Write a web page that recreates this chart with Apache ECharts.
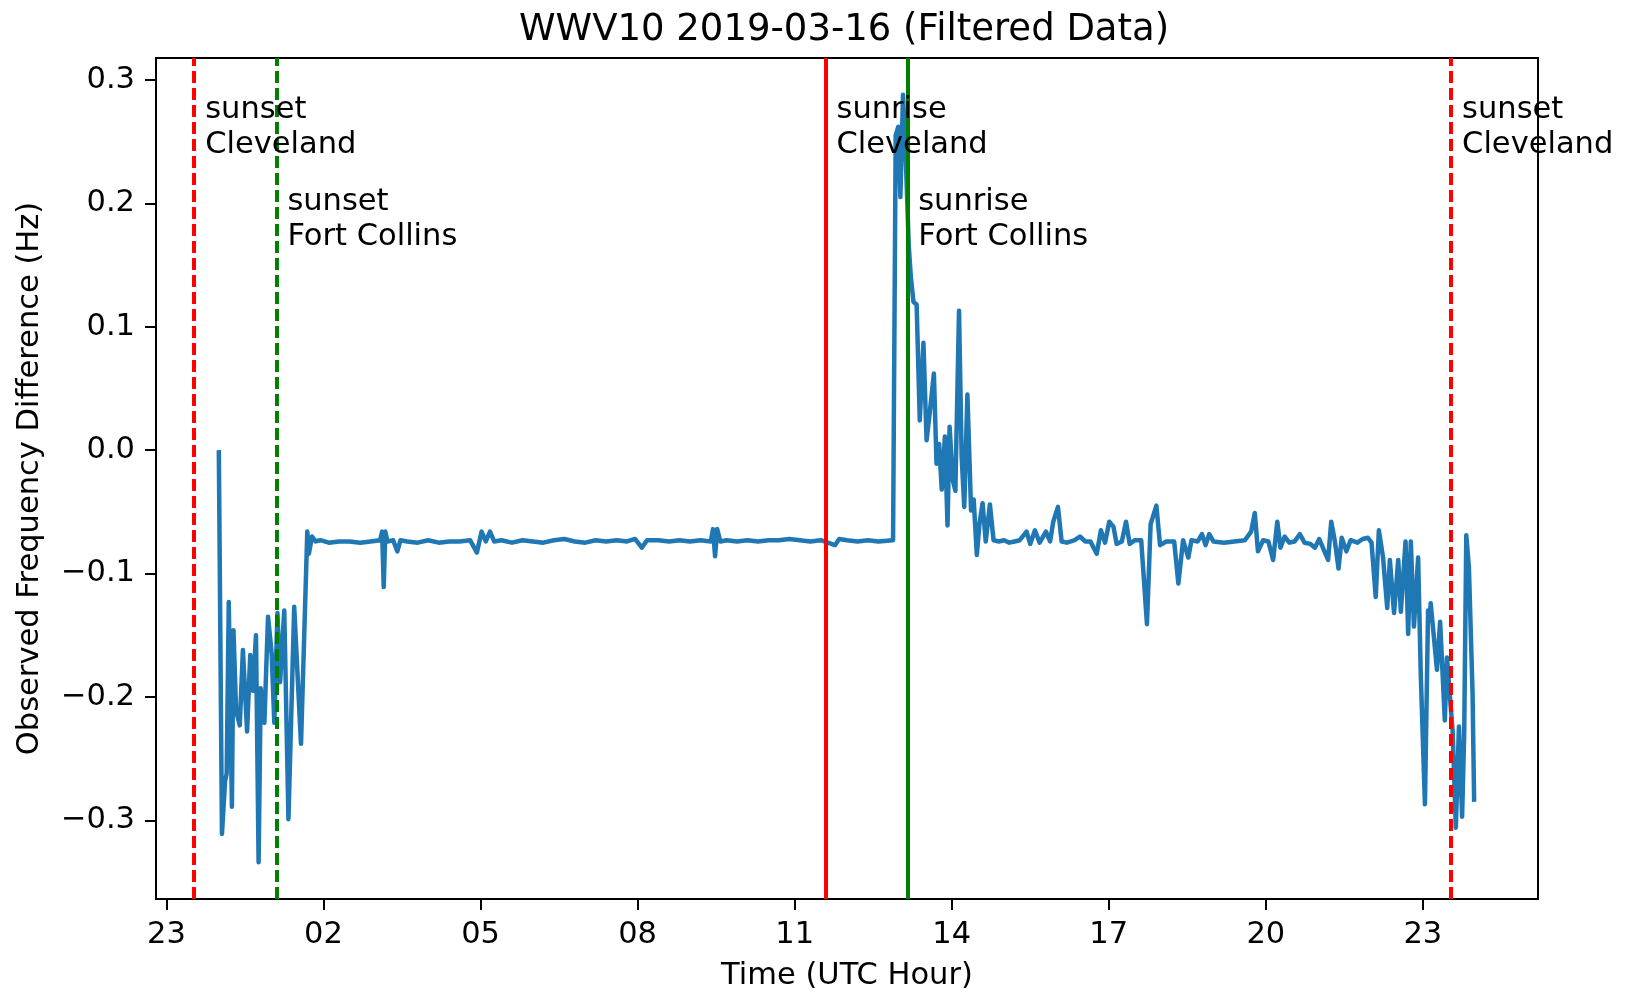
<!DOCTYPE html>
<html>
<head>
<meta charset="utf-8">
<title>WWV10 2019-03-16</title>
<script src="https://cdn.jsdelivr.net/npm/echarts@6/dist/echarts.min.js"></script>
<style>
  html, body { margin: 0; padding: 0; background: #fff; }
  #chart { width: 1627px; height: 995px; }
</style>
</head>
<body>
<div id="chart"></div>
<script>
// time in hours from 2019-03-16 00:00 UTC (negative = previous day)
const hours = [
  0.00, 0.06, 0.12, 0.15, 0.19, 0.25, 0.28, 0.33, 0.40, 0.46, 0.54, 0.60, 0.65, 0.71, 0.76, 0.80,
  0.87, 0.94, 1.01, 1.06, 1.12, 1.17, 1.25, 1.33, 1.44, 1.57, 1.69, 1.72, 1.78, 1.85, 1.94,
  2.1, 2.3, 2.5, 2.7, 2.9, 3.08, 3.12, 3.15, 3.18, 3.22, 3.33, 3.41, 3.47, 3.6, 3.8, 4.0, 4.2,
  4.4, 4.6, 4.8, 4.93, 5.02, 5.10, 5.18, 5.26, 5.4, 5.6, 5.8, 6.0, 6.2, 6.4, 6.6, 6.8, 7.0,
  7.2, 7.4, 7.6, 7.8, 7.95, 8.08, 8.18, 8.4, 8.6, 8.8, 9.0, 9.2, 9.4, 9.44, 9.48, 9.52, 9.58,
  9.7, 9.9, 10.1, 10.3, 10.5, 10.7, 10.9, 11.1, 11.3, 11.5, 11.77, 11.85, 12.0, 12.2, 12.4,
  12.6, 12.88, 12.93, 12.98, 13.02, 13.07, 13.12, 13.18, 13.22, 13.27, 13.33, 13.39, 13.46,
  13.52, 13.58, 13.66, 13.71, 13.76, 13.81, 13.87, 13.92, 13.96, 14.02, 14.07, 14.14, 14.19,
  14.24, 14.30, 14.37, 14.42, 14.48, 14.53, 14.59, 14.65, 14.73, 14.80, 14.9, 15.0, 15.1,
  15.2, 15.3, 15.43, 15.5, 15.59, 15.68, 15.80, 15.88, 15.94, 16.03, 16.1, 16.2, 16.35, 16.45,
  16.55, 16.65, 16.77, 16.85, 16.93, 17.01, 17.09, 17.15, 17.25, 17.33, 17.40, 17.5, 17.62,
  17.73, 17.80, 17.91, 17.98, 18.1, 18.25, 18.33, 18.42, 18.52, 18.58, 18.7, 18.78, 18.85,
  18.92, 19.0, 19.2, 19.4, 19.6, 19.72, 19.79, 19.85, 19.95, 20.05, 20.14, 20.22, 20.28,
  20.36, 20.45, 20.55, 20.65, 20.74, 20.85, 20.94, 21.02, 21.19, 21.25, 21.32, 21.39, 21.45,
  21.54, 21.62, 21.75, 21.85, 21.95, 22.02, 22.10, 22.16, 22.24, 22.32, 22.37, 22.45, 22.53,
  22.58, 22.67, 22.72, 22.77, 22.83, 22.91, 22.96, 23.04, 23.10, 23.13, 23.15, 23.27, 23.33,
  23.42, 23.46, 23.50, 23.57, 23.63, 23.69, 23.75, 23.79, 23.83, 23.88, 23.95, 23.98
];

// observed frequency difference (Hz)
const freqDiff = [
  0.000, -0.311, -0.268, -0.262, -0.123, -0.289, -0.146, -0.211, -0.223, -0.162, -0.228, -0.166, -0.195, -0.150, -0.334, -0.193,
  -0.221, -0.135, -0.165, -0.221, -0.132, -0.188, -0.130, -0.299, -0.127, -0.238, -0.066, -0.084, -0.070, -0.074, -0.073,
  -0.075, -0.074, -0.074, -0.075, -0.074, -0.073, -0.066, -0.111, -0.066, -0.074, -0.073, -0.082, -0.073, -0.074, -0.075, -0.073, -0.075,
  -0.074, -0.074, -0.073, -0.083, -0.066, -0.074, -0.066, -0.074, -0.073, -0.075, -0.073, -0.074, -0.075, -0.073, -0.072, -0.074, -0.075,
  -0.073, -0.074, -0.073, -0.074, -0.072, -0.079, -0.073, -0.073, -0.074, -0.073, -0.074, -0.073, -0.074, -0.064, -0.086, -0.064, -0.074,
  -0.073, -0.074, -0.073, -0.074, -0.073, -0.073, -0.072, -0.073, -0.074, -0.073, -0.077, -0.072, -0.073, -0.074, -0.073,
  -0.074, -0.073, 0.255, 0.262, 0.205, 0.288, 0.240, 0.165, 0.140, 0.120, 0.118, 0.024, 0.087,
  0.008, 0.030, 0.062, -0.011, 0.005, -0.032, 0.011, -0.061, 0.019, -0.024, -0.033, 0.113, -0.005,
  -0.046, 0.045, -0.049, -0.040, -0.085, -0.060, -0.043, -0.074, -0.044, -0.073, -0.074, -0.073, -0.075,
  -0.074, -0.073, -0.066, -0.076, -0.065, -0.075, -0.066, -0.074, -0.058, -0.046, -0.074, -0.075, -0.073, -0.070,
  -0.074, -0.074, -0.084, -0.065, -0.075, -0.058, -0.062, -0.076, -0.074, -0.058, -0.076, -0.073, -0.073,
  -0.141, -0.060, -0.045, -0.077, -0.074, -0.074, -0.108, -0.073, -0.087, -0.073, -0.074, -0.068, -0.077,
  -0.068, -0.074, -0.075, -0.074, -0.073, -0.066, -0.051, -0.082, -0.073, -0.074, -0.089, -0.058, -0.079,
  -0.070, -0.075, -0.074, -0.068, -0.075, -0.076, -0.079, -0.072, -0.089, -0.058, -0.074, -0.096, -0.071,
  -0.082, -0.073, -0.075, -0.072, -0.071, -0.075, -0.119, -0.065, -0.087, -0.128, -0.089, -0.132, -0.089,
  -0.131, -0.074, -0.149, -0.074, -0.143, -0.087, -0.181, -0.287, -0.130, -0.138, -0.124, -0.178, -0.139,
  -0.219, -0.168, -0.190, -0.228, -0.306, -0.224, -0.297, -0.230, -0.069, -0.095, -0.197, -0.285
];

// x tick positions (hours) and their labels
const xTickValues = [-1, 2, 5, 8, 11, 14, 17, 20, 23];
const xTickLabels = ['23', '02', '05', '08', '11', '14', '17', '20', '23'];

// y ticks
const yTickValues = [-0.3, -0.2, -0.1, 0.0, 0.1, 0.2, 0.3];
const yTickLabels = ['\u22120.3', '\u22120.2', '\u22120.1', '0.0', '0.1', '0.2', '0.3'];

// sunrise / sunset markers (hours)
const eventHours = [-0.47, 1.10, 11.60, 13.16, 23.53];
const eventColors = ['#ff0000', '#008000', '#ff0000', '#008000', '#ff0000'];
const eventDashed = [true, true, false, false, true];

// annotation texts and anchor points (top-left of text)
const noteText = ['sunset\nCleveland', 'sunset\nFort Collins', 'sunrise\nCleveland', 'sunrise\nFort Collins', 'sunset\nCleveland'];
const noteX = [-0.26, 1.31, 11.80, 13.36, 23.75];
const noteY = [0.290, 0.215, 0.290, 0.215, 0.290];

const FONT = 'DejaVu Sans';

const chart = echarts.init(document.getElementById('chart'));

function lookup(values, labels, v) {
  for (let i = 0; i < values.length; i++) {
    if (Math.abs(values[i] - v) < 1e-6) return labels[i];
  }
  return '';
}

const option = {
  animation: false,
  backgroundColor: '#ffffff',
  title: {
    text: 'WWV10 2019-03-16 (Filtered Data)',
    left: 519,
    top: 12,
    padding: 0,
    textStyle: { fontFamily: FONT, fontSize: 37, fontWeight: 'normal', color: '#000' }
  },
  grid: {
    left: 156,
    right: 89,
    top: 58,
    bottom: 96,
    outerBoundsMode: 'none',
    show: true,
    borderColor: '#000',
    borderWidth: 2,
    backgroundColor: '#fff'
  },
  xAxis: {
    type: 'value',
    min: -1.2,
    max: 25.2,
    name: 'Time (UTC Hour)',
    nameLocation: 'middle',
    nameGap: 62,
    nameTextStyle: { fontFamily: FONT, fontSize: 30.5, color: '#000' },
    axisLine: { show: true, onZero: false, lineStyle: { color: '#000', width: 2 } },
    axisTick: { show: true, length: 11, customValues: xTickValues, lineStyle: { color: '#000', width: 2 } },
    axisLabel: {
      customValues: xTickValues,
      margin: 21,
      fontFamily: FONT,
      fontSize: 30.5,
      color: '#000',
      formatter: v => lookup(xTickValues, xTickLabels, v)
    },
    splitLine: { show: false }
  },
  yAxis: {
    type: 'value',
    min: -0.3637,
    max: 0.3177,
    name: 'Observed Frequency Difference (Hz)',
    nameLocation: 'middle',
    nameGap: 110,
    nameTextStyle: { fontFamily: FONT, fontSize: 30.5, color: '#000' },
    axisLine: { show: true, onZero: false, lineStyle: { color: '#000', width: 2 } },
    axisTick: { show: true, length: 11, customValues: yTickValues, lineStyle: { color: '#000', width: 2 } },
    axisLabel: {
      customValues: yTickValues,
      margin: 21,
      fontFamily: FONT,
      fontSize: 30.5,
      color: '#000',
      formatter: v => lookup(yTickValues, yTickLabels, v)
    },
    splitLine: { show: false }
  },
  series: [
    {
      name: 'freq',
      type: 'line',
      data: hours.map((h, i) => [h, freqDiff[i]]),
      showSymbol: false,
      lineStyle: { color: '#1f77b4', width: 4.5, join: 'round' },
      z: 2,
      markLine: {
        silent: true,
        symbol: 'none',
        label: { show: false },
        data: eventHours.map((h, i) => ({
          xAxis: h,
          lineStyle: {
            color: eventColors[i],
            width: 4,
            type: eventDashed[i] ? [12, 5] : 'solid'
          }
        }))
      }
    },
    {
      name: 'notes',
      type: 'scatter',
      symbolSize: 0,
      z: 5,
      silent: true,
      itemStyle: { opacity: 1 },
      data: noteX.map((x, i) => ({ value: [x, noteY[i]], name: noteText[i] })),
      label: {
        show: true,
        position: [0, 0],
        align: 'left',
        verticalAlign: 'top',
        formatter: p => p.name,
        fontFamily: FONT,
        fontSize: 30.5,
        lineHeight: 35,
        color: '#000',
        opacity: 1
      }
    }
  ]
};

chart.setOption(option);
</script>
</body>
</html>
